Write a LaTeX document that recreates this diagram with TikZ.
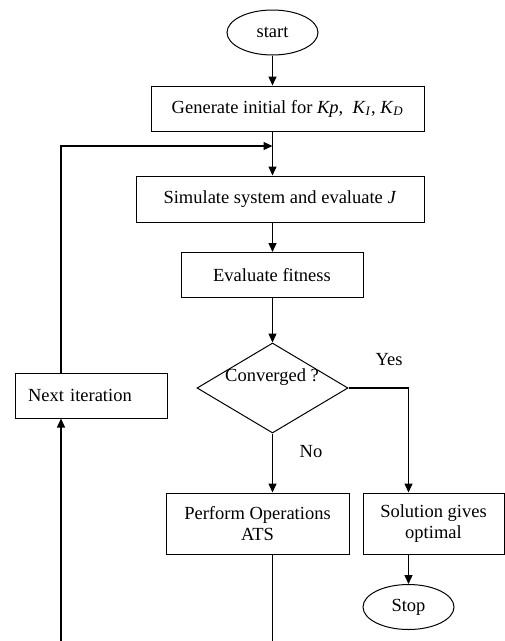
\documentclass[tikz,border=0pt]{standalone}
\usepackage{fontspec}
\setmainfont{Liberation Serif}
\usetikzlibrary{shapes.geometric,arrows.meta}

\tikzset{
  blk/.style={draw, line width=1pt, rectangle, inner sep=0pt, align=center},
  term/.style={draw, line width=1pt, ellipse, inner sep=0pt, minimum width=91pt, minimum height=45pt},
  decision/.style={draw, line width=1pt, diamond, inner sep=0pt, minimum width=151pt, minimum height=90pt},
  arr/.style={line width=1.3pt, -{Triangle[length=9pt,width=8pt]}},
  wire/.style={line width=1.3pt}
}

\begin{document}
\begin{tikzpicture}[x=1pt, y=-1pt, font=\fontsize{18.5}{21}\selectfont]

 \useasboundingbox (0,0) rectangle (505,641);

 %%%%%%%%%% Points pour travailler %%%%%%%%%%
 \coordinate (fb) at (272.5,146);
 \coordinate (nbot) at (61,641);
 \coordinate (pbot) at (272.5,641);

 %%%%%%%%%% Blocs %%%%%%%%%%
 \node [term] (start) at (272.5,32.5) {start};
 \node [blk, minimum width=273pt, minimum height=45pt] (gen) at (287.5,108.5)
   {Generate initial for \textit{Kp},\ \ \textit{K}\textsubscript{\textit{I}}, \textit{K}\textsubscript{\textit{D}}};
 \node [blk, minimum width=288pt, minimum height=46pt] (sim) at (280,199)
   {Simulate system and evaluate \textit{J}};
 \node [blk, minimum width=182pt, minimum height=45pt] (fit) at (272,275) {Evaluate fitness};
 \node [decision] (conv) at (272.5,388) {};
 \node (convtxt) at (272,377) {Converged ?};
 \node [blk, minimum width=152pt, minimum height=45pt, text width=126pt, align=left, inner xsep=13pt] (next) at (91,395.5)
   {Next iteration};
 \node [blk, minimum width=183pt, minimum height=61pt] (perf) at (257.5,523.5)
   {Perform Operations\\ATS};
 \node [blk, minimum width=141pt, minimum height=61pt] (sol) at (433.5,523.5)
   {Solution gives\\optimal};
 \node [term] (stop) at (408.5,607) {Stop};

 % Etiquettes
 \node (yes) at (389,360) {Yes};
 \node (no) at (311,452) {No};

 %%%%%%%%%% Fleches %%%%%%%%%%
 \draw [arr] (start) -- (gen.north -| start);
 \draw [arr] (gen.south -| start) -- (sim.north -| start);
 \draw [arr] (sim.south -| start) -- (fit.north -| start);
 \draw [arr] (fit.south -| conv) -- (conv.north);
 \draw [arr] (conv.south) -- (perf.north -| conv);
 \draw [arr] (conv.east) -| (sol.north -| stop);
 \draw [arr] (sol.south -| stop) -- (stop.north);

 % Boucle
 \draw [wire] (perf.south -| pbot) -- (pbot);
 \draw [arr] (nbot) -- (nbot |- next.south);
 \draw [arr] (nbot |- next.north) |- (fb);

\end{tikzpicture}
\end{document}
